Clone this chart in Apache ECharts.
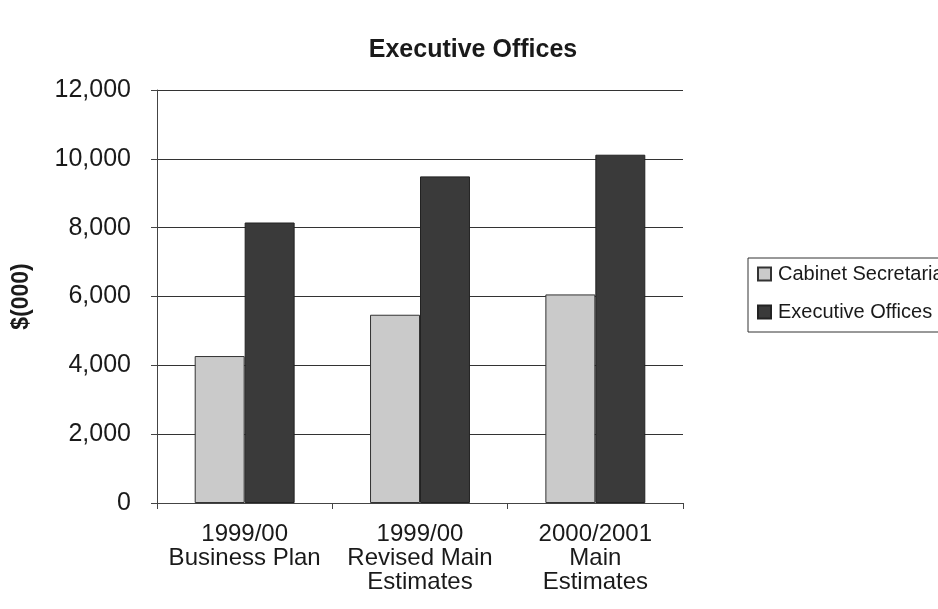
<!DOCTYPE html>
<html>
<head>
<meta charset="utf-8">
<script src="https://cdn.jsdelivr.net/npm/echarts@6/dist/echarts.min.js"></script>
<style>
html,body{margin:0;padding:0;background:#fff;}
#chart{width:938px;height:609px;}
</style>
</head>
<body>
<div id="chart"></div>
<script>
const categories = ["1999/00\nBusiness Plan", "1999/00\nRevised Main\nEstimates", "2000/2001\nMain\nEstimates"];
const cabinetSecretariat = [4270, 5470, 6060];
const executiveOffices = [8150, 9490, 10120];
const seriesNames = ["Cabinet Secretariat", "Executive Offices"];
const titleText = "Executive Offices";
const yAxisTitle = "$(000)";

const chart = echarts.init(document.getElementById('chart'));
const font = 'Liberation Sans, Arial, sans-serif';
chart.setOption({
  animation: false,
  backgroundColor: '#fff',
  title: {
    text: titleText, left: 468, top: 33, textAlign: 'center',
    textStyle: {fontFamily: font, fontSize: 25, fontWeight: 'bold', color: '#1a1a1a'}
  },
  legend: {
    orient: 'vertical', left: 748, top: 258,
    data: seriesNames, icon: 'rect',
    borderColor: '#333', borderWidth: 1, borderRadius: 0,
    padding: [6, 8, 10, 9], itemGap: 18,
    itemWidth: 13, itemHeight: 13,
    textStyle: {fontFamily: font, fontSize: 20, color: '#1a1a1a', padding: [0, 0, 0, 2]}
  },
  grid: {left: 157, right: 255, top: 90, bottom: 106, containLabel: false},
  xAxis: {
    type: 'category', data: categories,
    axisLine: {lineStyle: {color: '#444', width: 1}},
    axisTick: {show: true, length: 6, lineStyle: {color: '#444'}},
    axisLabel: {fontFamily: font, fontSize: 24, color: '#1a1a1a', lineHeight: 24, margin: 19, interval: 0}
  },
  yAxis: {
    type: 'value', min: 0, max: 12000, interval: 2000,
    name: yAxisTitle, nameLocation: 'middle', nameGap: 124,
    nameTextStyle: {fontFamily: font, fontSize: 23, fontWeight: 'bold', color: '#1a1a1a'},
    axisLine: {show: true, lineStyle: {color: '#444', width: 1}},
    axisTick: {show: true, length: 6, lineStyle: {color: '#444'}},
    axisLabel: {fontFamily: font, fontSize: 25, color: '#1a1a1a', margin: 26,
      formatter: v => v.toLocaleString('en-US')},
    splitLine: {show: true, lineStyle: {color: '#333', width: 1}}
  },
  series: [
    {name: seriesNames[0], type: 'bar', data: cabinetSecretariat, barGap: '0%', barCategoryGap: '43%',
     itemStyle: {color: '#cacaca', borderColor: '#333', borderWidth: 1}},
    {name: seriesNames[1], type: 'bar', data: executiveOffices,
     itemStyle: {color: '#3a3a3a', borderColor: '#222', borderWidth: 1}}
  ]
});
</script>
</body>
</html>
